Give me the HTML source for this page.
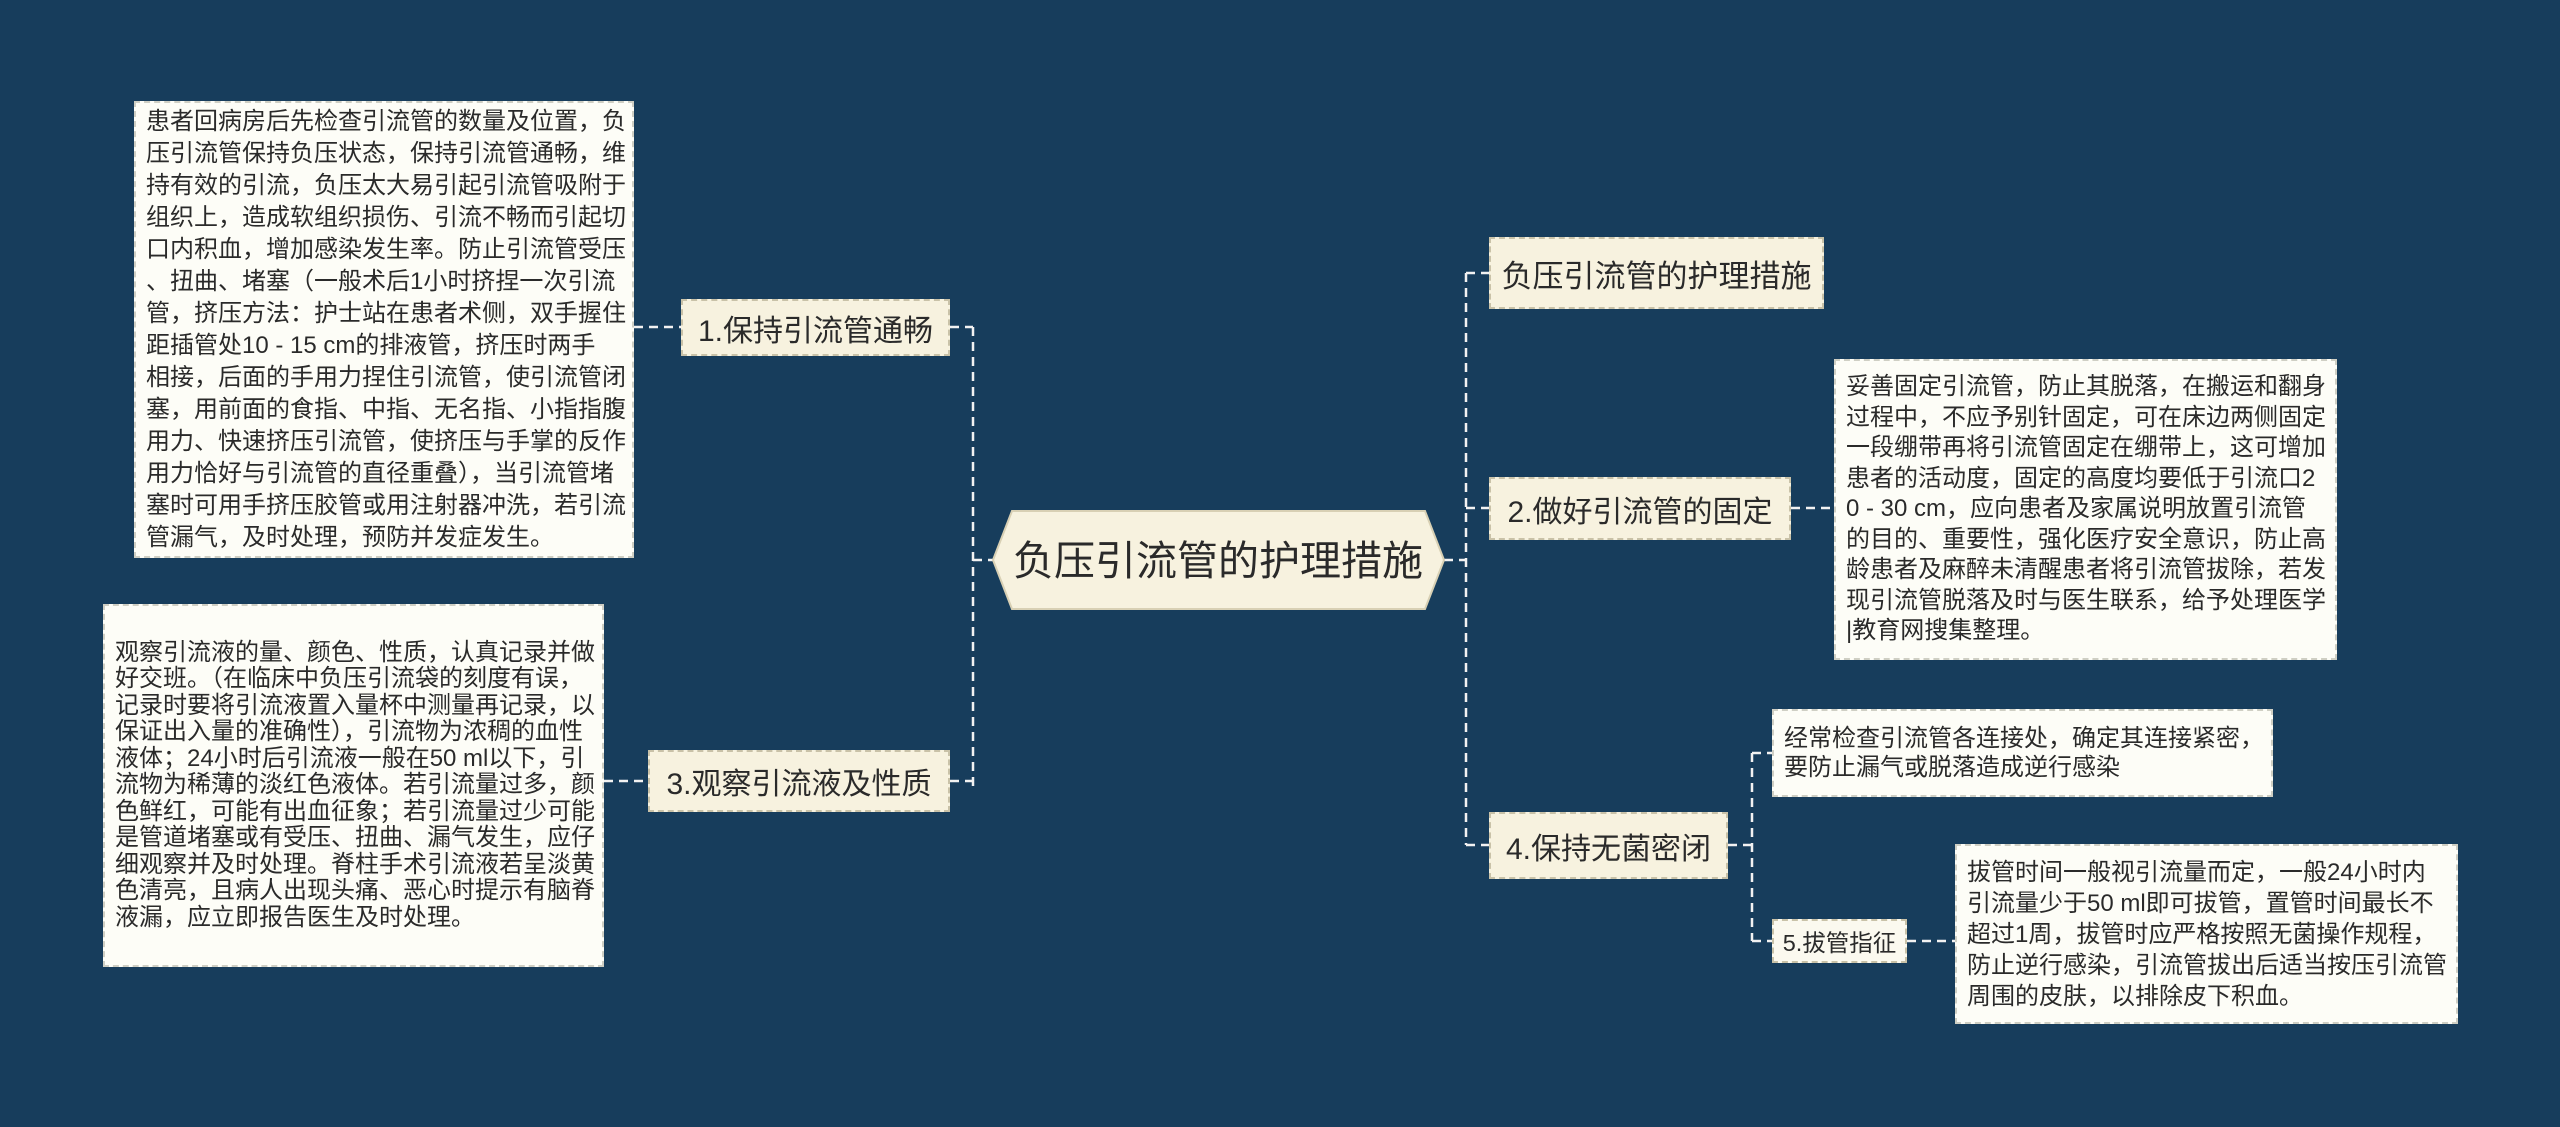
<!DOCTYPE html>
<html><head><meta charset="utf-8"><style>
html,body{margin:0;padding:0}
body{width:2560px;height:1127px;background:#173d5c;position:relative;overflow:hidden;font-family:"Liberation Sans","Noto Sans CJK SC",sans-serif;color:#2a2a2a}
.n{position:absolute;box-sizing:border-box;background:#f7f2df;border:2px dashed #c9c2a8;display:flex;align-items:center;justify-content:center;white-space:nowrap;font-size:30px}
.b{position:absolute;box-sizing:border-box;background:#fdfdf7;border:2px dashed #cfcfc4;display:flex;align-items:center;padding-left:10px;white-space:nowrap;font-size:24px}
svg{position:absolute;left:0;top:0}
</style></head><body>
<svg width="2560" height="1127">
<g stroke="#f2f2f2" stroke-width="2.5" stroke-dasharray="9 6" fill="none">
<path d="M973 560H993M973 327V790M950 327H973M950 781H973M634 327H681M604 781H648"/>
<path d="M1444 560H1466M1466 273V845M1466 273H1489M1466 508H1489M1466 845H1489M1791 508H1834"/>
<path d="M1728 845H1752M1752 753V941M1752 753H1772M1752 941H1772M1907 941H1955"/>
</g>
<polygon points="993,560 1012,511 1425,511 1444,560 1425,609 1012,609" fill="#f7f2df" stroke="#d8d0b4" stroke-width="2"/>
<text x="1218" y="575" text-anchor="middle" font-size="41" fill="#2a2a2a" font-family="Liberation Sans, Noto Sans CJK SC, sans-serif">负压引流管的护理措施</text>
</svg>

<div class="b" style="left:134px;top:101px;width:500px;height:457px;line-height:32px">患者回病房后先检查引流管的数量及位置，负<br>压引流管保持负压状态，保持引流管通畅，维<br>持有效的引流，负压太大易引起引流管吸附于<br>组织上，造成软组织损伤、引流不畅而引起切<br>口内积血，增加感染发生率。防止引流管受压<br>、扭曲、堵塞（一般术后1小时挤捏一次引流<br>管，挤压方法：护士站在患者术侧，双手握住<br>距插管处10 - 15 cm的排液管，挤压时两手<br>相接，后面的手用力捏住引流管，使引流管闭<br>塞，用前面的食指、中指、无名指、小指指腹<br>用力、快速挤压引流管，使挤压与手掌的反作<br>用力恰好与引流管的直径重叠），当引流管堵<br>塞时可用手挤压胶管或用注射器冲洗，若引流<br>管漏气，及时处理，预防并发症发生。</div>
<div class="n" style="left:681px;top:299px;width:269px;height:57px">1.保持引流管通畅</div>

<div class="b" style="left:103px;top:604px;width:501px;height:363px;line-height:26.5px">观察引流液的量、颜色、性质，认真记录并做<br>好交班。（在临床中负压引流袋的刻度有误，<br>记录时要将引流液置入量杯中测量再记录，以<br>保证出入量的准确性），引流物为浓稠的血性<br>液体；24小时后引流液一般在50 ml以下，引<br>流物为稀薄的淡红色液体。若引流量过多，颜<br>色鲜红，可能有出血征象；若引流量过少可能<br>是管道堵塞或有受压、扭曲、漏气发生，应仔<br>细观察并及时处理。脊柱手术引流液若呈淡黄<br>色清亮，且病人出现头痛、恶心时提示有脑脊<br>液漏，应立即报告医生及时处理。</div>
<div class="n" style="left:648px;top:750px;width:302px;height:62px">3.观察引流液及性质</div>

<div class="n" style="left:1489px;top:237px;width:335px;height:72px;font-size:31px">负压引流管的护理措施</div>
<div class="n" style="left:1489px;top:477px;width:302px;height:63px">2.做好引流管的固定</div>
<div class="b" style="left:1834px;top:359px;width:503px;height:301px;line-height:30.5px">妥善固定引流管，防止其脱落，在搬运和翻身<br>过程中，不应予别针固定，可在床边两侧固定<br>一段绷带再将引流管固定在绷带上，这可增加<br>患者的活动度，固定的高度均要低于引流口2<br>0 - 30 cm，应向患者及家属说明放置引流管<br>的目的、重要性，强化医疗安全意识，防止高<br>龄患者及麻醉未清醒患者将引流管拔除，若发<br>现引流管脱落及时与医生联系，给予处理医学<br>|教育网搜集整理。</div>
<div class="n" style="left:1489px;top:812px;width:239px;height:67px">4.保持无菌密闭</div>
<div class="b" style="left:1772px;top:709px;width:501px;height:88px;line-height:29px">经常检查引流管各连接处，确定其连接紧密，<br>要防止漏气或脱落造成逆行感染</div>
<div class="n" style="left:1772px;top:919px;width:135px;height:44px;font-size:23.5px;background:#fbf9ef">5.拔管指征</div>
<div class="b" style="left:1955px;top:844px;width:503px;height:180px;line-height:31px">拔管时间一般视引流量而定，一般24小时内<br>引流量少于50 ml即可拔管，置管时间最长不<br>超过1周，拔管时应严格按照无菌操作规程，<br>防止逆行感染，引流管拔出后适当按压引流管<br>周围的皮肤，以排除皮下积血。</div>
</body></html>
